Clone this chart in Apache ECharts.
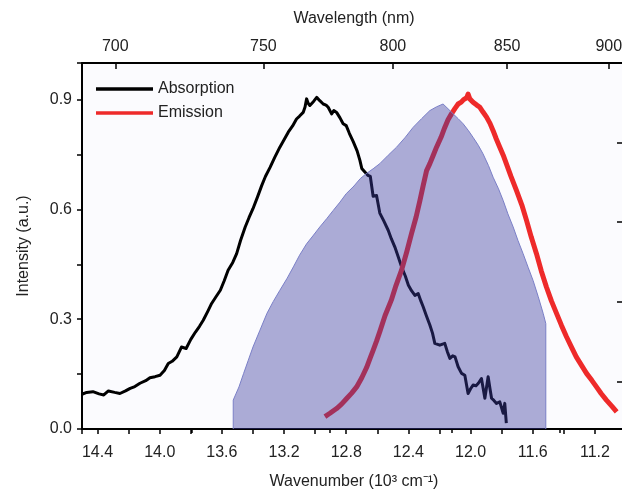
<!DOCTYPE html>
<html>
<head>
<meta charset="utf-8">
<script src="https://cdn.jsdelivr.net/npm/echarts@6/dist/echarts.min.js"></script>
<style>
html,body{margin:0;padding:0;background:#fff;}
#chart{width:622px;height:493px;}
</style>
</head>
<body>
<div id="chart"></div>
<script>
// ---- data (wavenumber in 10^3 cm^-1, intensity a.u.) ----
const absorption = [
[14.50,0.095],[14.47,0.100],[14.43,0.102],[14.39,0.096],[14.36,0.093],[14.33,0.104],[14.29,0.100],[14.256,0.097],
[14.22,0.104],[14.19,0.111],[14.16,0.116],[14.127,0.125],[14.09,0.132],[14.063,0.140],[14.03,0.143],[13.998,0.147],
[13.97,0.160],[13.945,0.179],[13.92,0.185],[13.89,0.197],[13.86,0.224],[13.83,0.220],[13.80,0.245],[13.77,0.265],
[13.745,0.280],[13.72,0.297],[13.69,0.322],[13.666,0.343],[13.64,0.360],[13.61,0.379],[13.585,0.405],[13.56,0.434],
[13.53,0.455],[13.505,0.479],[13.48,0.515],[13.45,0.552],[13.425,0.578],[13.40,0.602],[13.37,0.635],[13.344,0.665],
[13.32,0.690],[13.29,0.715],[13.26,0.742],[13.227,0.770],[13.20,0.790],[13.173,0.811],[13.145,0.828],[13.12,0.847],
[13.10,0.855],[13.077,0.865],[13.065,0.880],[13.055,0.902],[13.045,0.890],[13.034,0.884],[13.01,0.895],[12.99,0.906],
[12.97,0.897],[12.948,0.888],[12.93,0.885],[12.916,0.879],[12.894,0.861],[12.88,0.870],[12.862,0.865],[12.84,0.850],
[12.82,0.834],[12.80,0.829],[12.78,0.808],[12.755,0.785],[12.73,0.760],[12.712,0.734],[12.70,0.712],[12.68,0.702],
[12.66,0.693],[12.645,0.690],[12.627,0.636],[12.605,0.638],[12.584,0.590],[12.56,0.570],[12.53,0.543],[12.51,0.520],
[12.487,0.497],[12.465,0.470],[12.444,0.443],[12.42,0.418],[12.40,0.393],[12.38,0.378],[12.358,0.365],[12.337,0.370],
[12.32,0.350],[12.305,0.334],[12.285,0.310],[12.262,0.284],[12.245,0.262],[12.23,0.234],[12.198,0.229],[12.18,0.232],
[12.166,0.234],[12.15,0.212],[12.133,0.193],[12.115,0.200],[12.10,0.197],[12.08,0.170],[12.058,0.152],[12.037,0.147],
[12.016,0.097],[12.00,0.110],[11.984,0.120],[11.965,0.118],[11.95,0.125],[11.93,0.138],[11.908,0.084],[11.887,0.143],
[11.875,0.110],[11.865,0.084],[11.85,0.078],[11.833,0.070],[11.812,0.074],[11.79,0.043],[11.78,0.070],[11.77,0.016]
];
const emission = [
[12.937,0.034],[12.905,0.043],[12.862,0.056],[12.83,0.068],[12.80,0.082],[12.765,0.098],[12.733,0.115],[12.70,0.140],
[12.669,0.168],[12.645,0.195],[12.627,0.215],[12.605,0.240],[12.584,0.266],[12.55,0.310],[12.51,0.352],[12.48,0.392],
[12.444,0.434],[12.41,0.485],[12.38,0.534],[12.35,0.580],[12.326,0.624],[12.305,0.665],[12.283,0.706],[12.262,0.725],
[12.24,0.748],[12.219,0.770],[12.19,0.797],[12.166,0.824],[12.145,0.845],[12.123,0.861],[12.10,0.876],[12.08,0.888],
[12.06,0.893],[12.045,0.900],[12.037,0.897],[12.025,0.905],[12.016,0.915],[12.005,0.902],[11.995,0.905],[11.984,0.893],
[11.96,0.885],[11.94,0.879],
[11.92,0.866],[11.897,0.852],[11.875,0.835],[11.855,0.815],[11.835,0.793],[11.812,0.770],[11.79,0.748],[11.77,0.725],
[11.74,0.690],[11.705,0.652],[11.67,0.612],[11.64,0.570],[11.61,0.525],[11.576,0.479],[11.545,0.432],[11.512,0.388],
[11.48,0.350],[11.447,0.316],[11.415,0.283],[11.383,0.252],[11.35,0.223],[11.32,0.197],[11.285,0.173],[11.254,0.152],
[11.22,0.133],[11.19,0.115],[11.16,0.097],[11.126,0.079],[11.09,0.062],[11.06,0.047]
];
const shaded = [
[13.527,0],[13.527,0.079],[13.49,0.115],[13.46,0.152],[13.43,0.188],[13.40,0.224],[13.355,0.270],[13.31,0.316],
[13.27,0.348],[13.227,0.379],[13.18,0.412],[13.14,0.443],[13.10,0.475],[13.055,0.506],[13.01,0.530],[12.97,0.552],
[12.925,0.575],[12.884,0.597],[12.84,0.620],[12.80,0.643],[12.75,0.664],[12.71,0.684],[12.67,0.698],[12.627,0.711],
[12.584,0.725],[12.53,0.748],[12.476,0.770],[12.42,0.797],[12.37,0.824],[12.315,0.848],[12.262,0.870],[12.22,0.880],
[12.177,0.888],[12.145,0.875],[12.112,0.861],[12.08,0.848],[12.048,0.834],[12.015,0.816],[11.984,0.797],[11.95,0.775],
[11.92,0.752],[11.885,0.720],[11.855,0.688],[11.82,0.656],[11.79,0.624],[11.76,0.588],[11.726,0.552],[11.695,0.515],
[11.662,0.479],[11.63,0.442],[11.598,0.406],[11.565,0.362],[11.533,0.316],[11.516,0.288],[11.516,0]
];
const seriesNames = ['Absorption', 'Emission'];
const wavelengthMajor = [700, 750, 800, 850, 900];
const wavelengthMinor = [725, 775, 825, 875];
const rightTicks = [0.129, 0.347, 0.565, 0.783];

// ---- chart ----
const FONT = '"Liberation Sans", Arial, Helvetica, sans-serif';
const TXT = '#222';
const toWn = wl => 1e4 / wl;
const chart = echarts.init(document.getElementById('chart'), null, {renderer: 'canvas'});
const gridRect = {left: 82, top: 63, width: 544, height: 366, containLabel: false, outerBoundsMode: 'none'};
const lbl = {fontFamily: FONT, fontSize: 16, color: TXT};

chart.setOption({
  animation: false,
  backgroundColor: '#fff',
  textStyle: {fontFamily: FONT},
  grid: [
    Object.assign({show: true, backgroundColor: '#fbfbfe', borderWidth: 0}, gridRect),
    Object.assign({show: false}, gridRect)
  ],
  legend: {
    data: seriesNames,
    orient: 'vertical',
    left: 91, top: 76,
    icon: 'rect',
    itemWidth: 57, itemHeight: 3.5, itemGap: 8,
    textStyle: {fontFamily: FONT, fontSize: 16, color: TXT}
  },
  xAxis: [
    {
      gridIndex: 0, type: 'value', position: 'bottom',
      min: 11.0, max: 14.5, interval: 0.2, inverse: true,
      axisLine: {show: true, lineStyle: {color: '#000', width: 2}},
      axisTick: {show: true, inside: false, length: 5, lineStyle: {color: '#000', width: 1.5}},
      axisLabel: Object.assign({margin: 16, formatter: v => (Math.round(v * 10) % 4 === 0 ? v.toFixed(1) : '')}, lbl),
      splitLine: {show: false},
      name: 'Wavenumber (10³ cm⁻¹)', nameLocation: 'middle', nameGap: 45,
      nameTextStyle: lbl
    },
    {
      gridIndex: 0, type: 'value', position: 'top',
      min: 11.0, max: 14.5, inverse: true,
      axisLine: {show: true, lineStyle: {color: '#000', width: 2}},
      axisTick: {show: true, inside: true, length: 6, lineStyle: {color: '#000', width: 1.5},
                 customValues: wavelengthMajor.map(toWn)},
      axisLabel: Object.assign({margin: 8, customValues: wavelengthMajor.map(toWn),
                 formatter: v => String(Math.round(1e4 / v))}, lbl),
      splitLine: {show: false},
      name: 'Wavelength (nm)', nameLocation: 'middle', nameGap: 36,
      nameTextStyle: lbl
    },
    {
      gridIndex: 1, type: 'value', position: 'top',
      min: 11.0, max: 14.5, inverse: true,
      axisLine: {show: false},
      axisTick: {show: true, inside: true, length: 4, lineStyle: {color: '#000', width: 1.5},
                 customValues: wavelengthMinor.map(toWn)},
      axisLabel: {show: false},
      splitLine: {show: false}
    }
  ],
  yAxis: [
    {
      gridIndex: 0, type: 'value', position: 'left',
      min: 0, max: 1.0, interval: 0.15,
      axisLine: {show: true, lineStyle: {color: '#000', width: 2}},
      axisTick: {show: true, inside: false, length: 5, lineStyle: {color: '#000', width: 1.5}},
      axisLabel: Object.assign({margin: 10, formatter: v => (Math.round(v * 100) % 30 === 0 ? v.toFixed(1) : '')}, lbl),
      splitLine: {show: false},
      name: 'Intensity (a.u.)', nameLocation: 'middle', nameGap: 50, nameRotate: 90,
      nameTextStyle: lbl
    },
    {
      gridIndex: 1, type: 'value', position: 'right',
      min: 0, max: 1.0,
      axisLine: {show: false},
      axisTick: {show: true, inside: true, length: 9, lineStyle: {color: '#000', width: 1.5},
                 customValues: rightTicks},
      axisLabel: {show: false},
      splitLine: {show: false}
    }
  ],
  series: [
    {
      name: seriesNames[0], type: 'line', xAxisIndex: 0, yAxisIndex: 0,
      data: absorption, showSymbol: false, symbol: 'none',
      lineStyle: {color: '#000', width: 3, join: 'round'},
      itemStyle: {color: '#000'}
    },
    {
      name: seriesNames[1], type: 'line', xAxisIndex: 0, yAxisIndex: 0,
      data: emission, showSymbol: false, symbol: 'none',
      lineStyle: {color: '#ee2a2a', width: 5, join: 'round'},
      itemStyle: {color: '#ee2a2a'}
    },
    {
      name: 'Shaded', type: 'line', xAxisIndex: 0, yAxisIndex: 0,
      data: shaded, showSymbol: false, symbol: 'none',
      lineStyle: {color: '#7a7fc6', width: 1},
      areaStyle: {color: 'rgb(60,60,160)', opacity: 0.42},
      z: 10, zlevel: 1
    }
  ]
});
</script>
</body>
</html>
